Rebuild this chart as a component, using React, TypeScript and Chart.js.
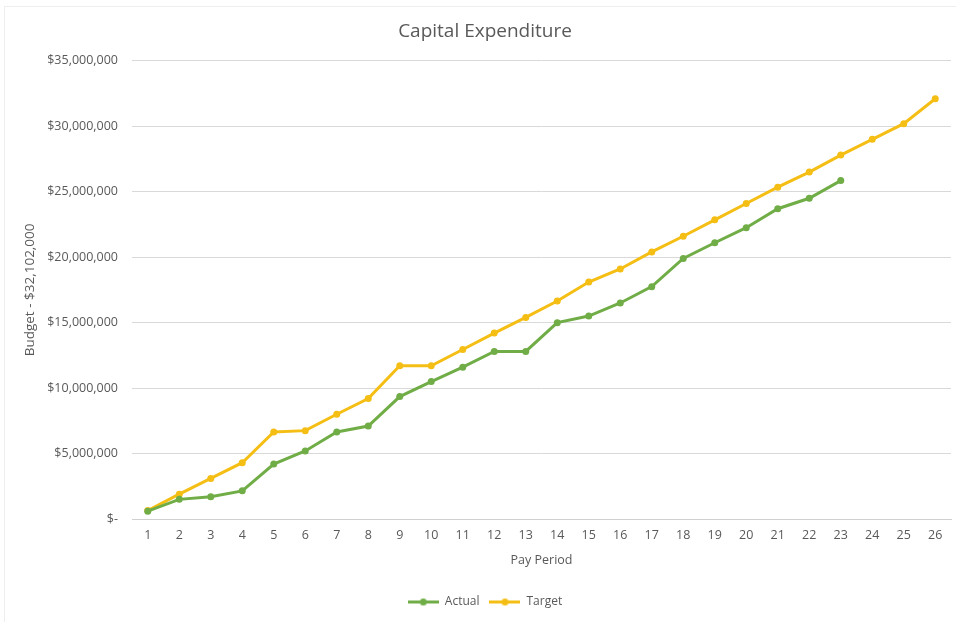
import React, { useEffect, useRef } from "react";
import { Chart, registerables } from "chart.js";

Chart.register(...registerables);

const payPeriods = ["1","2","3","4","5","6","7","8","9","10","11","12","13","14","15","16","17","18","19","20","21","22","23","24","25","26"];
const actualValues = [600000, 1500000, 1700000, 2150000, 4200000, 5200000, 6650000, 7100000, 9350000, 10500000, 11600000, 12800000, 12800000, 15000000, 15500000, 16500000, 17750000, 19900000, 21100000, 22250000, 23700000, 24500000, 25850000];
const targetValues = [650000, 1900000, 3100000, 4300000, 6650000, 6750000, 8000000, 9200000, 11700000, 11700000, 12950000, 14200000, 15400000, 16650000, 18100000, 19100000, 20400000, 21600000, 22850000, 24100000, 25350000, 26500000, 27800000, 29000000, 30200000, 32102000];
const yTicks = [0, 5000000, 10000000, 15000000, 20000000, 25000000, 30000000, 35000000];

const GREEN = "#70AD47";
const GOLD = "#F5BE14";
const TEXT = "#595959";
const FONT = "'Open Sans', Lato, sans-serif";
const CANVAS_W = 956;
const PAD_LEFT = 19;

function legendIcon(color: string) {
  const c = document.createElement("canvas");
  c.width = 31;
  c.height = 9;
  const ctx = c.getContext("2d")!;
  ctx.strokeStyle = color;
  ctx.lineWidth = 3;
  ctx.beginPath();
  ctx.moveTo(0, 4.5);
  ctx.lineTo(31, 4.5);
  ctx.stroke();
  ctx.fillStyle = color;
  ctx.beginPath();
  ctx.arc(15.5, 4.5, 3.5, 0, Math.PI * 2);
  ctx.fill();
  return c;
}

function money(v: number) {
  if (v === 0) return "$-";
  return "$" + v.toLocaleString("en-US");
}

export default function App() {
  const ref = useRef<HTMLCanvasElement | null>(null);
  useEffect(() => {
    document.body.style.margin = "0";
    document.body.style.overflow = "hidden";
    const greenIcon = legendIcon(GREEN);
    const goldIcon = legendIcon(GOLD);
    const chart = new Chart(ref.current!, {
      type: "line",
      data: {
        labels: payPeriods,
        datasets: [
          {
            label: "Actual",
            data: actualValues,
            borderColor: GREEN,
            backgroundColor: GREEN,
            borderWidth: 3,
            pointRadius: 3.5,
            pointBorderWidth: 0,
            pointBackgroundColor: GREEN,
            tension: 0,
          },
          {
            label: "Target",
            data: targetValues,
            borderColor: GOLD,
            backgroundColor: GOLD,
            borderWidth: 3,
            pointRadius: 3.5,
            pointBorderWidth: 0,
            pointBackgroundColor: GOLD,
            tension: 0,
          },
        ],
      },
      options: {
        animation: false,
        responsive: false,
        maintainAspectRatio: false,
        layout: { padding: { left: PAD_LEFT, right: 5, top: 0, bottom: 4 } },
        plugins: {
          title: {
            display: true,
            text: "Capital Expenditure",
            color: TEXT,
            font: { family: FONT, size: 19, weight: "normal" },
            padding: { top: 20, bottom: 18 },
          },
          legend: {
            position: "bottom",
            labels: {
              color: TEXT,
              font: { family: FONT, size: 12 },
              usePointStyle: true,
              pointStyleWidth: 31,
              padding: 10,
              generateLabels: (ch: any) =>
                ch.data.datasets.map((ds: any, i: number) => ({
                  text: ds.label,
                  fillStyle: ds.borderColor,
                  strokeStyle: ds.borderColor,
                  lineWidth: 0,
                  pointStyle: i === 0 ? greenIcon : goldIcon,
                  hidden: false,
                  datasetIndex: i,
                  fontColor: TEXT,
                })),
            },
          },
          tooltip: { enabled: false },
        },
        scales: {
          x: {
            offset: true,
            grid: { display: false, drawTicks: false },
            border: { display: true, color: "#d0d0d0", width: 1 },
            ticks: { color: TEXT, font: { family: FONT, size: 12.5 }, padding: 9, maxRotation: 0, autoSkip: false },
            title: {
              display: true,
              text: "Pay Period",
              color: TEXT,
              font: { family: FONT, size: 12.5 },
              padding: { top: 4, bottom: 18 },
            },
            afterFit: (s: any) => {
              s.height = 67;
            },
          },
          y: {
            min: 0,
            max: 35000000,
            afterBuildTicks: (s: any) => {
              s.ticks = yTicks.map((v) => ({ value: v }));
            },
            grid: { color: "#d9d9d9", drawTicks: false },
            border: { display: false },
            ticks: {
              color: TEXT,
              font: { family: FONT, size: 12.5 },
              padding: 14,
              callback: (v: any) => money(Number(v)),
            },
            title: {
              display: true,
              text: "Budget - $32,102,000",
              color: TEXT,
              font: { family: FONT, size: 13.5 },
              padding: { top: 3, bottom: 0 },
            },
            afterFit: (s: any) => {
              s.width = 132 - PAD_LEFT;
            },
          },
        },
      },
    });
    return () => chart.destroy();
  }, []);
  return (
    <div style={{ position: "relative", width: 956, height: 622, background: "#fff", overflow: "hidden" }}>
      <div style={{ position: "absolute", left: 4, top: 6, width: 970, height: 640, border: "1px solid #eeeeee" }} />
      <canvas ref={ref} width={CANVAS_W} height={622} style={{ position: "absolute", left: 0, top: 0, width: CANVAS_W, height: 622 }} />
    </div>
  );
}
